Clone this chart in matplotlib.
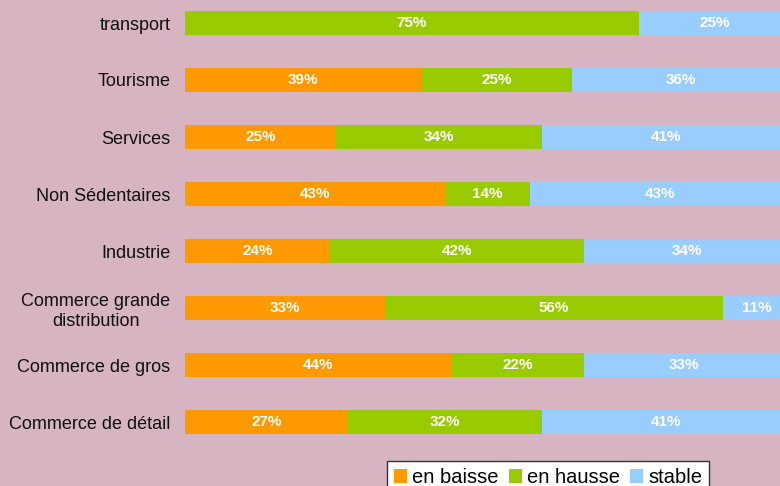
import matplotlib.pyplot as plt
import numpy as np

plt.rcParams['font.family'] = ['Liberation Sans', 'DejaVu Sans']

# Data (top to bottom as shown)
categories = ["transport", "Tourisme", "Services", "Non Sédentaires", "Industrie",
              "Commerce grande\ndistribution", "Commerce de gros", "Commerce de détail"]
baisse = [0, 39, 25, 43, 24, 33, 44, 27]
hausse = [75, 25, 34, 14, 42, 56, 22, 32]
stable = [25, 36, 41, 43, 34, 11, 33, 41]
series_names = ["en baisse", "en hausse", "stable"]
colors = ["#FF9900", "#99CC00", "#99CCFF"]
bg = "#D6B4C1"

fig = plt.figure(figsize=(7.8, 4.86), dpi=100)
fig.patch.set_facecolor(bg)
# axes extends slightly beyond the figure on the right and top, like the reference
ax = fig.add_axes([185 / 780, 35.5 / 486, 605 / 780, 456 / 486])
ax.set_facecolor(bg)

y = np.arange(len(categories))
left = np.zeros(len(categories))
handles = []
for vals, name, col in zip([baisse, hausse, stable], series_names, colors):
    vals = np.array(vals, dtype=float)
    bars = ax.barh(y, vals, left=left, height=0.41, color=col, label=name)
    handles.append(bars)
    for yi, l, v in zip(y, left, vals):
        if v > 0:
            ax.text(l + v / 2, yi, f"{int(v)}%", ha="center", va="center",
                    color="white", fontweight="bold", fontsize=11)
    left += vals

ax.set_xlim(0, 100)
ax.set_ylim(len(categories) - 0.5, -0.5)
ax.set_yticks(y)
ax.set_yticklabels(categories, fontsize=13)
for lab in ax.get_yticklabels():
    lab.set_multialignment("center")
ax.tick_params(axis="y", length=0, pad=10.5, colors="#111111")
ax.set_xticks([])
for s in ax.spines.values():
    s.set_visible(False)

# legend sits at the bottom edge and is clipped there, as in the reference
leg = fig.legend(handles=handles, labels=series_names, loc="upper left",
                 bbox_to_anchor=(387 / 780, 1 - 461 / 486), ncol=3,
                 fontsize=14.5, frameon=True, fancybox=False,
                 handlelength=0.65, handleheight=0.65, handletextpad=0.25,
                 columnspacing=0.5, borderpad=0.35, borderaxespad=0)
leg.get_frame().set_edgecolor("#333333")
leg.get_frame().set_linewidth(1.0)
leg.get_frame().set_facecolor("white")
leg.get_frame().set_alpha(1)

fig.savefig("out.png", dpi=100, facecolor=bg)
